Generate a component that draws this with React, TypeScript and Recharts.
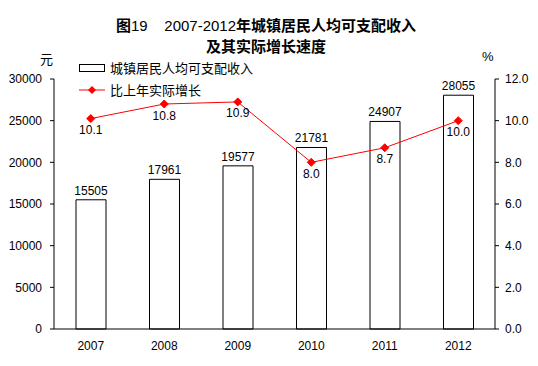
import { ComposedChart, Bar, Line, XAxis, YAxis, LabelList } from 'recharts';

const years = ['2007', '2008', '2009', '2010', '2011', '2012'];
const income = [15505, 17961, 19577, 21781, 24907, 28055];
const growth = [10.1, 10.8, 10.9, 8.0, 8.7, 10.0];
const leftTicks = [0, 5000, 10000, 15000, 20000, 25000, 30000];
const rightTicks = [0, 2, 4, 6, 8, 10, 12];
const boundaryTicks = [1, 2, 3, 4, 5];

const chartData = years.map((year, i) => ({ year, income: income[i], growth: growth[i] }));

if (typeof document !== 'undefined') {
  document.body.style.margin = '0';
}

const FONT = 'Arial, "Liberation Sans", "Noto Sans CJK SC", sans-serif';
const CJK = '"Noto Sans CJK SC", "Liberation Sans", sans-serif';

const Diamond = (props: any) => {
  const { cx, cy } = props;
  if (cx == null || cy == null) return null;
  const r = 4;
  return (
    <polygon
      points={`${cx},${cy - r} ${cx + r},${cy} ${cx},${cy + r} ${cx - r},${cy}`}
      fill="#ff0000"
      stroke="#ff0000"
    />
  );
};

// short marks pointing up between the categories
const BoundaryTick = (props: any) => {
  const { x, y } = props;
  return <line x1={x} x2={x} y1={y - 4} y2={y} stroke="#000" strokeWidth={1} />;
};

export default function App() {
  return (
    <div style={{ position: 'relative', width: 538, height: 366, background: '#fff', fontFamily: FONT }}>
      <div
        style={{
          position: 'absolute', top: 15, left: 0, width: 532, textAlign: 'center',
          fontFamily: CJK, fontSize: 15, lineHeight: '20px', fontWeight: 700, color: '#000',
        }}
      >
        <div>
          图<span style={{ fontWeight: 400, fontFamily: FONT }}>19&nbsp;&nbsp;&nbsp;&nbsp;2007-2012</span>年城镇居民人均可支配收入
        </div>
        <div>及其实际增长速度</div>
      </div>
      <div style={{ position: 'absolute', left: 40, top: 49, fontFamily: CJK, fontSize: 13 }}>元</div>
      <div style={{ position: 'absolute', left: 482, top: 49, fontFamily: FONT, fontSize: 13 }}>%</div>

      <div style={{ position: 'absolute', left: 79, top: 57, fontFamily: CJK, fontSize: 13, lineHeight: '22px' }}>
        <div style={{ display: 'flex', alignItems: 'center' }}>
          <span style={{ display: 'inline-block', width: 24, height: 6, border: '1px solid #000', marginRight: 5 }} />
          城镇居民人均可支配收入
        </div>
        <div style={{ display: 'flex', alignItems: 'center' }}>
          <svg width={26} height={10} style={{ marginRight: 5 }}>
            <line x1={0} x2={26} y1={5} y2={5} stroke="#ff0000" />
            <polygon points="13,1 17,5 13,9 9,5" fill="#ff0000" />
          </svg>
          比上年实际增长
        </div>
      </div>

      <div style={{ position: 'absolute', left: 0, top: 0 }}>
        <ComposedChart
          width={538}
          height={366}
          data={chartData}
          margin={{ top: 79, right: 0, bottom: 7, left: 0 }}
        >
          <XAxis
            xAxisId="b"
            type="number"
            domain={[0, 6]}
            ticks={boundaryTicks}
            height={0}
            axisLine={false}
            tickLine={false}
            tickSize={0}
            tickMargin={0}
            tick={<BoundaryTick />}
          />
          <XAxis
            dataKey="year"
            height={30}
            axisLine={{ stroke: '#000' }}
            tickLine={false}
            tickSize={0}
            tickMargin={12}
            tick={{ fill: '#000', fontSize: 12, fontFamily: FONT }}
          />
          <YAxis
            yAxisId="left"
            width={54}
            domain={[0, 30000]}
            ticks={leftTicks}
            axisLine={{ stroke: '#000' }}
            tickLine={{ stroke: '#000' }}
            tickSize={4}
            tickMargin={8}
            tick={{ fill: '#000', fontSize: 12, fontFamily: FONT }}
          />
          <YAxis
            yAxisId="right"
            orientation="right"
            width={43}
            domain={[0, 12]}
            ticks={rightTicks}
            tickFormatter={(v: number) => v.toFixed(1)}
            axisLine={{ stroke: '#000' }}
            tickLine={{ stroke: '#000' }}
            tickSize={4}
            tickMargin={6}
            tick={{ fill: '#000', fontSize: 12, fontFamily: FONT }}
          />
          <Bar
            yAxisId="left"
            dataKey="income"
            fill="#fff"
            stroke="#000"
            strokeWidth={1}
            barSize={30}
            isAnimationActive={false}
          >
            <LabelList dataKey="income" position="top" fill="#000" fontSize={12} fontFamily={FONT} />
          </Bar>
          <Line
            yAxisId="right"
            dataKey="growth"
            stroke="#ff0000"
            strokeWidth={1}
            dot={<Diamond />}
            activeDot={false}
            isAnimationActive={false}
          >
            <LabelList
              dataKey="growth"
              position="bottom"
              offset={7}
              formatter={(v: any) => Number(v).toFixed(1)}
              fill="#000"
              fontSize={12}
              fontFamily={FONT}
            />
          </Line>
        </ComposedChart>
      </div>
    </div>
  );
}
